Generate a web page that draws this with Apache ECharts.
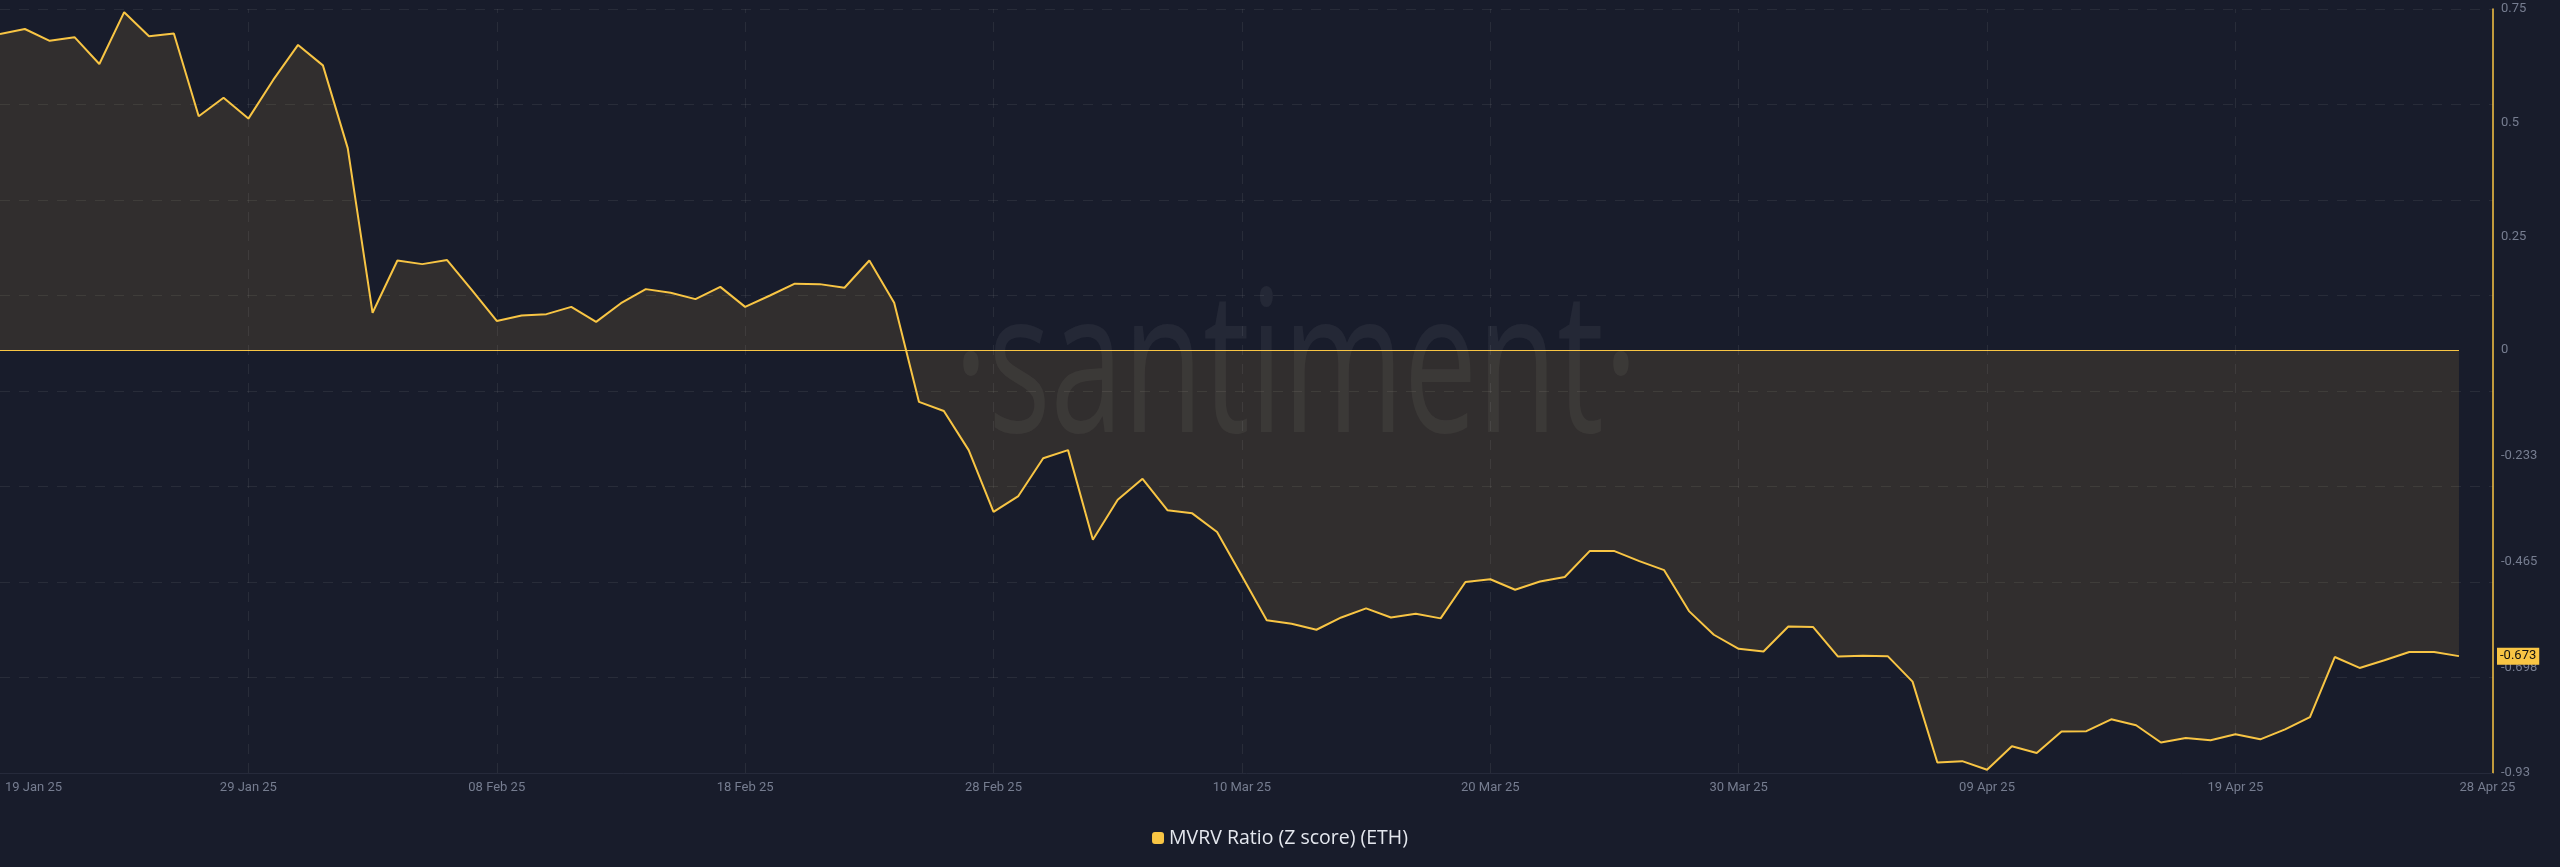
<!DOCTYPE html>
<html>
<head>
<meta charset="utf-8">
<style>
  html, body { margin: 0; padding: 0; background: #181c2b; }
  #chart { width: 2560px; height: 867px; }
</style>
<script src="https://cdn.jsdelivr.net/npm/echarts@6/dist/echarts.min.js"></script>
</head>
<body>
<div id="chart"></div>
<script>
// ---- data ----
const seriesName = 'MVRV Ratio (Z score) (ETH)';
// day index from 19 Jan 25 (0) to 28 Apr 25 (99)
const mvrvZ = [
  0.695, 0.706, 0.680, 0.688, 0.629, 0.743, 0.690, 0.696, 0.514, 0.555,
  0.509, 0.594, 0.671, 0.626, 0.444, 0.082, 0.197, 0.189, 0.198, 0.132,
  0.064, 0.076, 0.079, 0.095, 0.062, 0.103, 0.134, 0.126, 0.112, 0.139,
  0.095, 0.120, 0.146, 0.145, 0.137, 0.197, 0.104, -0.114, -0.134, -0.220,
  -0.356, -0.321, -0.238, -0.220, -0.417, -0.329, -0.283, -0.352, -0.359, -0.400,
  -0.497, -0.594, -0.602, -0.615, -0.588, -0.568, -0.588, -0.580, -0.590, -0.510,
  -0.504, -0.527, -0.509, -0.499, -0.442, -0.442, -0.464, -0.484, -0.574, -0.626,
  -0.657, -0.663, -0.608, -0.609, -0.674, -0.672, -0.673, -0.729, -0.907, -0.904,
  -0.923, -0.871, -0.886, -0.839, -0.838, -0.812, -0.825, -0.863, -0.853, -0.858,
  -0.845, -0.856, -0.834, -0.807, -0.675, -0.699, -0.682, -0.664, -0.664, -0.673
];
const xTickDays = [0, 10, 20, 30, 40, 50, 60, 70, 80, 90, 99];
const xTickLabels = ['19 Jan 25', '29 Jan 25', '08 Feb 25', '18 Feb 25', '28 Feb 25',
  '10 Mar 25', '20 Mar 25', '30 Mar 25', '09 Apr 25', '19 Apr 25', '28 Apr 25'];
const xGridDays = [10, 20, 30, 40, 50, 60, 70, 80, 90];
const yTickValues = [0.75, 0.5, 0.25, 0, -0.233, -0.465, -0.698, -0.93];
const yTickLabels = ['0.75', '0.5', '0.25', '0', '-0.233', '-0.465', '-0.698', '-0.93'];
const yMin = -0.93, yMax = 0.75;
const xMaxDay = 100.37;

// ---- chart ----
const YELLOW = '#f8c544';
const GRID = 'rgba(255,255,255,0.07)';
const LABEL = '#767d90';
const lastIdx = mvrvZ.length - 1;
const lastVal = mvrvZ[lastIdx];
const seriesData = mvrvZ.map((v, i) => [i, v]);

const chart = echarts.init(document.getElementById('chart'));
chart.setOption({
  backgroundColor: '#181c2b',
  animation: false,
  textStyle: { fontFamily: 'Roboto' },
  grid: { left: 0, right: 67, top: 9, bottom: 94, containLabel: false },
  graphic: [{
    type: 'text', z: 1, silent: true,
    x: 1296, y: 376, originX: 0, originY: 0, scaleX: 0.66,
    style: {
      text: '·santiment·',
      font: '400 198px "Open Sans"',
      fill: 'rgba(255,255,255,0.055)',
      align: 'center', verticalAlign: 'middle'
    }
  }],
  legend: {
    bottom: 'auto', top: 823, left: 'center',
    icon: 'roundRect', itemWidth: 12, itemHeight: 12, itemGap: 10,
    textStyle: { color: '#e4e7ee', fontSize: 19.5, fontFamily: 'Open Sans' },
    data: [{ name: seriesName, itemStyle: { color: YELLOW } }]
  },
  xAxis: {
    type: 'value', min: 0, max: xMaxDay,
    axisLine: { show: true, onZero: false, lineStyle: { color: '#262a3b', width: 1 } },
    axisTick: { show: false },
    splitLine: { show: false },
    axisLabel: {
      customValues: xTickDays,
      color: LABEL, fontSize: 13, margin: 8,
      alignMinLabel: 'left',
      formatter: function (v) {
        const k = xTickDays.indexOf(v);
        if (k === 0) return '{first|' + xTickLabels[k] + '}';
        if (k === xTickDays.length - 1) return '{last|' + xTickLabels[k] + '}';
        return k >= 0 ? xTickLabels[k] : '';
      },
      rich: {
        first: { color: LABEL, fontSize: 13, padding: [0, 0, 0, 5] },
        last: { color: LABEL, fontSize: 13, padding: [0, 0, 0, 57] }
      }
    }
  },
  yAxis: [{
    type: 'value', position: 'right', min: yMin, max: yMax,
    axisLine: { show: true, onZero: false, lineStyle: { color: YELLOW, width: 1.5 } },
    axisTick: { show: false },
    splitLine: { show: false },
    axisLabel: {
      customValues: yTickValues,
      color: LABEL, fontSize: 13, margin: 8,
      formatter: function (v) {
        let k = yTickValues.findIndex(t => Math.abs(t - v) < 1e-9);
        return k >= 0 ? yTickLabels[k] : '';
      }
    }
  }, {
    type: 'value', position: 'right', min: 0, max: 8, interval: 1,
    axisLine: { show: false, onZero: false }, axisTick: { show: false }, axisLabel: { show: false },
    splitLine: { show: true, lineStyle: { color: GRID, type: [10, 9], width: 1 } }
  }, {
    type: 'value', position: 'right', min: yMin, max: yMax,
    axisLine: { show: false, onZero: false }, axisTick: { show: false }, splitLine: { show: false },
    axisLabel: {
      customValues: [lastVal],
      margin: 4,
      color: '#111', fontSize: 13,
      backgroundColor: YELLOW, padding: [2, 3, 2, 3],
      formatter: function (v) { return v.toFixed(3); }
    }
  }],
  series: [{
    name: seriesName,
    type: 'line',
    xAxisIndex: 0, yAxisIndex: 0,
    data: seriesData,
    symbol: 'none',
    z: 3,
    lineStyle: { color: YELLOW, width: 2 },
    itemStyle: { color: YELLOW },
    areaStyle: { color: 'rgba(248,197,68,0.16)', origin: 0 },
    markLine: {
      silent: true, symbol: 'none', animation: false,
      label: { show: false },
      emphasis: { disabled: true },
      data: [
        [{ coord: [0, 0], lineStyle: { color: YELLOW, width: 1.2, type: 'solid' } },
         { coord: [lastIdx, 0] }]
      ].concat(xGridDays.map(d => ({ xAxis: d, lineStyle: { color: GRID, type: [10, 9], width: 1 } })))
    }
  }]
});
</script>
</body>
</html>
